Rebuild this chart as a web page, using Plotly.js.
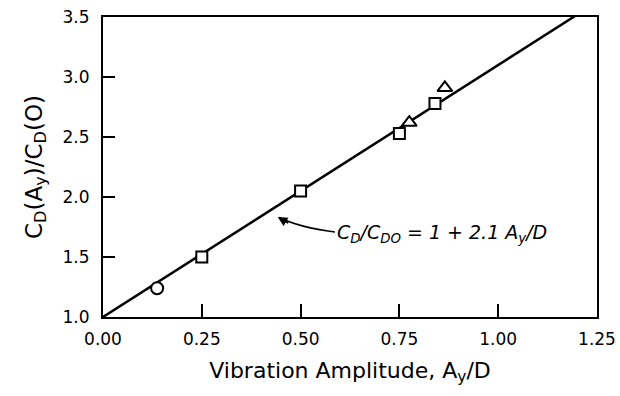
<!DOCTYPE html>
<html>
<head>
<meta charset="utf-8">
<script src="https://cdn.plot.ly/plotly-3.0.1.min.js"></script>
<style>html,body{margin:0;padding:0;background:#fff}#chart{width:620px;height:396px}</style>
</head>
<body>
<div id="chart"></div>
<script>
// Data
var circleX = [0.137];
var circleY = [1.24];
var squareX = [0.25, 0.50, 0.75, 0.84];
var squareY = [1.50, 2.05, 2.53, 2.78];
var triX = [0.775, 0.865];
var triY = [2.62, 2.91];
var fitX = [0.0, 1.25];
var fitY = [1.0, 3.625];
var xTicks = [0, 0.25, 0.5, 0.75, 1.0, 1.25];
var xTickText = ['0.00', '0.25', '0.50', '0.75', '1.00', '1.25'];
var yTicks = [1.0, 1.5, 2.0, 2.5, 3.0, 3.5];
var yTickText = ['1.0', '1.5', '2.0', '2.5', '3.0', '3.5'];
var xTitle = 'Vibration Amplitude, A<sub>y</sub>/D';
var yTitle = 'C<sub>D</sub>(A<sub>y</sub>)/C<sub>D</sub>(O)';
var eqText = '<i>C<sub>D</sub>/C<sub>DO</sub> = 1 + 2.1 A<sub>y</sub>/D</i>';

var font = 'DejaVu Sans, Liberation Sans, Arial, sans-serif';
var mk = function(sym, size){ return {symbol: sym, size: size, color: 'white', line: {color: 'black', width: 2}}; };

var traces = [
  {x: fitX, y: fitY, mode: 'lines', line: {color: 'black', width: 2.5}, hoverinfo: 'skip'},
  {x: circleX, y: circleY, mode: 'markers', marker: mk('circle', 12), cliponaxis: false},
  {x: squareX, y: squareY, mode: 'markers', marker: mk('square', 11), cliponaxis: false},
  {x: triX, y: triY, mode: 'markers', marker: mk('triangle-up', 13), cliponaxis: false}
];

var layout = {
  width: 620, height: 396,
  margin: {l: 103, r: 23, t: 17, b: 79},
  paper_bgcolor: 'white', plot_bgcolor: 'white',
  showlegend: false,
  font: {family: font, color: 'black', size: 17},
  xaxis: {
    range: [0, 1.25], tickvals: xTicks, ticktext: xTickText,
    ticks: 'inside', ticklen: 13, tickwidth: 2, tickcolor: 'black',
    showline: true, linecolor: 'black', linewidth: 2, mirror: true,
    showgrid: false, zeroline: false,
    tickfont: {size: 17}, ticklabelstandoff: 6,
    title: {text: xTitle, font: {size: 22}, standoff: 14}
  },
  yaxis: {
    range: [1, 3.5], tickvals: yTicks, ticktext: yTickText,
    ticks: 'inside', ticklen: 12, tickwidth: 2, tickcolor: 'black',
    showline: true, linecolor: 'black', linewidth: 2, mirror: true,
    showgrid: false, zeroline: false,
    tickfont: {size: 17}, ticklabelstandoff: 8,
    title: {text: yTitle, font: {size: 23}, standoff: 14}
  },
  shapes: [
    {type: 'path', xref: 'x', yref: 'y',
     path: 'M 0.587 1.708 Q 0.497 1.746 0.446 1.829',
     line: {color: 'black', width: 1.6}}
  ],
  annotations: [
    {x: 0.587, y: 1.70, xref: 'x', yref: 'y', xanchor: 'left', yanchor: 'middle',
     text: eqText, showarrow: false, font: {size: 19, family: font}},
    {x: 0.442, y: 1.833, xref: 'x', yref: 'y', text: '', showarrow: true,
     ax: 12, ay: 7, arrowhead: 2, arrowsize: 1.2, arrowwidth: 1.6, arrowcolor: 'black', standoff: 0}
  ]
};

Plotly.newPlot('chart', traces, layout, {displayModeBar: false, staticPlot: true});
</script>
</body>
</html>
